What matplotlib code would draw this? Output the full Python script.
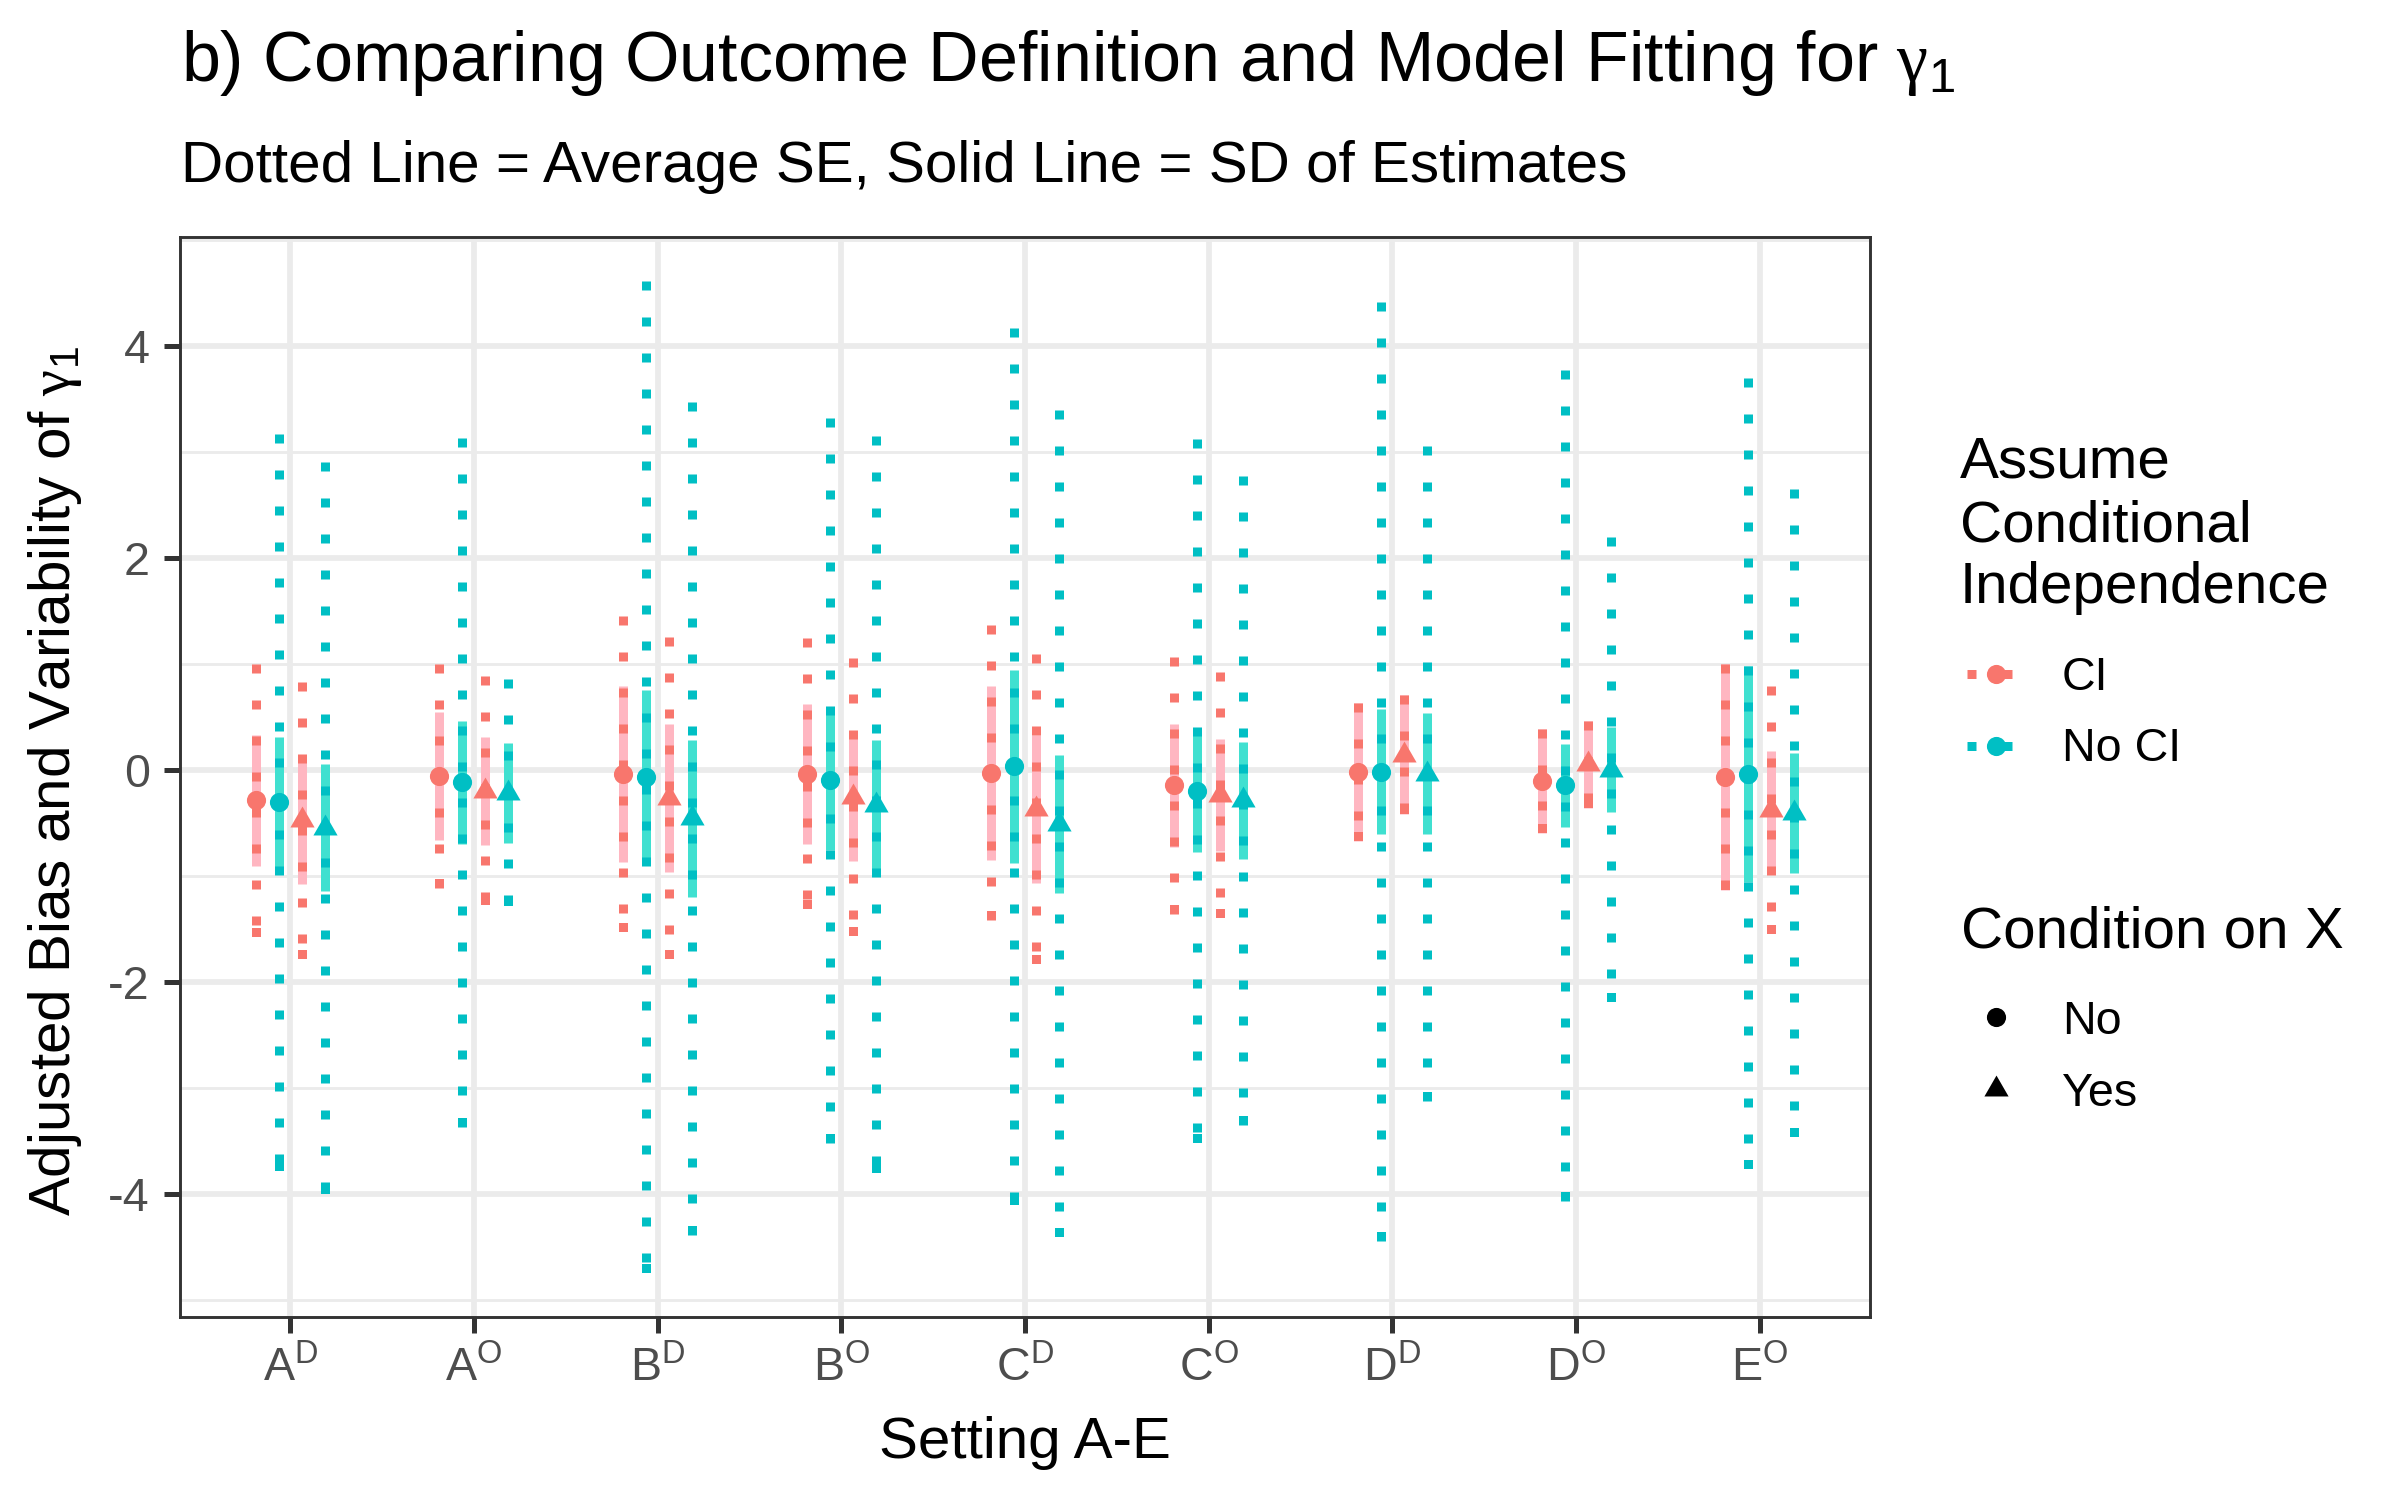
import matplotlib
matplotlib.use('Agg')
import matplotlib.pyplot as plt
from matplotlib.lines import Line2D
from matplotlib.path import Path
from matplotlib.markers import MarkerStyle
from matplotlib.ticker import MultipleLocator
import numpy as np

plt.rcParams['font.family'] = ['Liberation Sans', 'DejaVu Sans']
plt.rcParams['mathtext.fontset'] = 'custom'
plt.rcParams['mathtext.rm'] = 'Liberation Sans'
plt.rcParams['mathtext.it'] = 'Liberation Sans:italic'
plt.rcParams['mathtext.bf'] = 'Liberation Sans:bold'
plt.rcParams['mathtext.sf'] = 'Liberation Serif'

# ---------------- data ----------------
settings = [r'$\mathrm{A}^{\mathrm{D}}$', r'$\mathrm{A}^{\mathrm{O}}$',
            r'$\mathrm{B}^{\mathrm{D}}$', r'$\mathrm{B}^{\mathrm{O}}$',
            r'$\mathrm{C}^{\mathrm{D}}$', r'$\mathrm{C}^{\mathrm{O}}$',
            r'$\mathrm{D}^{\mathrm{D}}$', r'$\mathrm{D}^{\mathrm{O}}$',
            r'$\mathrm{E}^{\mathrm{O}}$']

ci_levels = ['CI', 'No CI']
x_levels = ['No', 'Yes']

# CI assumed, not conditioning on X
est_CI_noX = [-0.29, -0.06, -0.04, -0.04, -0.03, -0.15, -0.02, -0.11, -0.07]
sd_CI_noX  = [0.62, 0.60, 0.83, 0.66, 0.82, 0.58, 0.65, 0.49, 1.07]
se_CI_noX  = [1.29, 1.06, 1.49, 1.28, 1.39, 1.21, 0.65, 0.49, 1.07]
# No CI, not conditioning on X
est_NoCI_noX = [-0.31, -0.12, -0.07, -0.10, 0.03, -0.20, -0.02, -0.15, -0.04]
sd_NoCI_noX  = [0.62, 0.58, 0.82, 0.66, 0.91, 0.58, 0.59, 0.39, 1.02]
se_NoCI_noX  = [3.48, 3.25, 4.68, 3.42, 4.14, 3.32, 4.43, 3.92, 3.73]
# CI assumed, conditioning on X
est_CI_X = [-0.48, -0.20, -0.27, -0.26, -0.37, -0.24, 0.14, 0.05, -0.38]
sd_CI_X  = [0.60, 0.51, 0.70, 0.60, 0.70, 0.53, 0.56, 0.41, 0.56]
se_CI_X  = [1.31, 1.08, 1.52, 1.31, 1.46, 1.16, 0.56, 0.41, 1.17]
# No CI, conditioning on X
est_NoCI_X = [-0.55, -0.22, -0.46, -0.33, -0.51, -0.29, -0.04, 0.00, -0.41]
sd_NoCI_X  = [0.60, 0.47, 0.74, 0.61, 0.65, 0.55, 0.57, 0.40, 0.57]
se_NoCI_X  = [3.45, 1.07, 3.93, 3.48, 3.90, 3.06, 3.09, 2.19, 3.06]

series = [
    ('CI', 'No', est_CI_noX, sd_CI_noX, se_CI_noX),
    ('No CI', 'No', est_NoCI_noX, sd_NoCI_noX, se_NoCI_noX),
    ('CI', 'Yes', est_CI_X, sd_CI_X, se_CI_X),
    ('No CI', 'Yes', est_NoCI_X, sd_NoCI_X, se_NoCI_X),
]

# ---------------- style ----------------
dark = {'CI': '#F8766D', 'No CI': '#00BFC4'}
light = {'CI': '#FFB6C1', 'No CI': '#40E0D0'}
tri = MarkerStyle(Path([(-1, -0.5774), (1, -0.5774), (0, 1.1547), (-1, -0.5774)],
                       [Path.MOVETO, Path.LINETO, Path.LINETO, Path.CLOSEPOLY]))
shapes = {'No': ('o', 4.6), 'Yes': (tri, 6.7)}
endcap = MarkerStyle(Path([(-0.5, 0), (0.5, 0), (0.5, 1), (-0.5, 1), (-0.5, 0)],
                          [Path.MOVETO, Path.LINETO, Path.LINETO, Path.LINETO, Path.CLOSEPOLY]))
LW = 2.16
DOT = (0, (1, 3))
W, H = 2400, 1500
GAMMA = r'$\mathsf{\gamma}_{\mathrm{1}}$'


def fx(x):
    return x / W


def fy(y):
    return 1 - y / H


fig = plt.figure(figsize=(8, 5), dpi=300)
ax = fig.add_axes([fx(180), fy(1317), fx(1870) - fx(180), fy(237) - fy(1317)])

offsets = [-0.1875, -0.0625, 0.0625, 0.1875]
xbase = np.arange(len(settings))

# solid lines (SD)
for (ci, xc, est, sd, se), off in zip(series, offsets):
    est = np.array(est); sd = np.array(sd)
    ax.vlines(xbase + off, est - sd, est + sd, colors=light[ci], lw=LW,
              capstyle='butt', zorder=2)
# dotted lines (average SE)
for (ci, xc, est, sd, se), off in zip(series, offsets):
    est = np.array(est); se = np.array(se)
    xx = xbase + off
    ax.plot(np.vstack([xx, xx]), np.vstack([est + se, est - se]), color=dark[ci],
            lw=LW, linestyle=DOT, dash_capstyle='butt', zorder=3)
    ax.plot(xx, est - se, linestyle='none', marker=endcap, ms=2 * LW,
            mew=0, color=dark[ci], zorder=3)
# points
for (ci, xc, est, sd, se), off in zip(series, offsets):
    m, ms = shapes[xc]
    ax.plot(xbase + off, est, linestyle='none', marker=m, ms=ms, mew=0,
            color=dark[ci], zorder=4)

ax.set_xlim(-0.6, len(settings) - 0.4)
ax.set_ylim(-5.165, 5.025)
ax.set_xticks(xbase)
ax.set_xticklabels(settings)
ax.yaxis.set_major_locator(MultipleLocator(2))
ax.yaxis.set_minor_locator(MultipleLocator(1))
ax.set_yticks([-4, -2, 0, 2, 4])
ax.set_yticklabels(['-4', '-2', '0', '2', '4'])

ax.set_axisbelow(True)
ax.grid(which='major', axis='both', color='#EBEBEB', lw=1.37, zorder=0)
ax.grid(which='minor', axis='y', color='#EBEBEB', lw=0.68, zorder=0)
for s in ax.spines.values():
    s.set_color('#333333')
    s.set_linewidth(0.7)
ax.tick_params(which='major', length=3.8, width=1.2, color='#333333',
               labelcolor='#4D4D4D', labelsize=11.2)
ax.tick_params(axis='y', pad=3.4)
ax.tick_params(axis='x', pad=3.2)
ax.tick_params(which='minor', length=0)

# titles
fig.text(fx(181), fy(81), 'b) Comparing Outcome Definition and Model Fitting for ' + GAMMA,
         size=16.8, va='baseline', ha='left', color='black')
fig.text(fx(181), fy(181.7), 'Dotted Line = Average SE, Solid Line = SD of Estimates',
         size=14, va='baseline', ha='left', color='black')
fig.text(fx(1025), fy(1458), 'Setting A-E', size=14, ha='center', va='baseline')
fig.text(fx(70.4), fy(781), 'Adjusted Bias and Variability of ' + GAMMA, size=14,
         rotation=90, rotation_mode='anchor', ha='center', va='baseline')

# legend 1
for txt, yb in zip(['Assume', 'Conditional', 'Independence'], [477, 541, 603]):
    fig.text(fx(1960), fy(yb), txt, size=14, va='baseline', ha='left')
for lab, yk in zip(ci_levels, [674, 745.5]):
    fig.add_artist(Line2D([fx(1967), fx(2025)], [fy(yk), fy(yk)], transform=fig.transFigure,
                          color=dark[lab], lw=LW, linestyle=DOT, dash_capstyle='butt'))
    fig.add_artist(Line2D([fx(1995.5)], [fy(yk)], transform=fig.transFigure, marker='o',
                          ms=4.6, mew=0, color=dark[lab], linestyle='none'))
    fig.text(fx(2062), fy(yk + 15.5), lab, size=11.2, va='baseline', ha='left')

# legend 2
fig.text(fx(1961), fy(947), 'Condition on X', size=14, va='baseline', ha='left')
for lab, yk in zip(x_levels, [1017, 1089]):
    m, ms = shapes[lab]
    fig.add_artist(Line2D([fx(1995.5)], [fy(yk)], transform=fig.transFigure, marker=m,
                          ms=ms, mew=0, color='black', linestyle='none'))
    fig.text(fx(2062), fy(yk + 16.5), lab, size=11.2, va='baseline', ha='left')

fig.savefig('out.png', dpi=300, facecolor='white')
